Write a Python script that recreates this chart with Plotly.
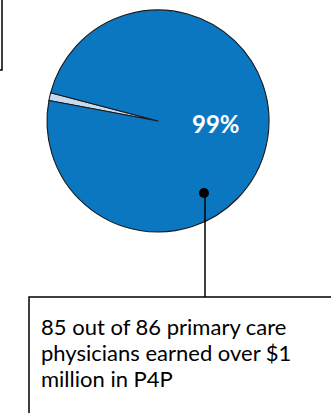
import plotly.graph_objects as go

# Physicians earning over $1 million in P4P
groups = ["Did not exceed $1 million", "Earned over $1 million"]
counts = [1, 85]
total = sum(counts)

callout_lines = [
    f"{counts[1]} out of {total} primary care",
    "physicians earned over $1",
    "million in P4P",
]

W, H = 331, 413


def px(x):
    return x / W


def py(y):
    return 1 - y / H


fig = go.Figure()

# pie: centre (158,121), radius 111 px
cx, cy, r = 158, 121, 111
fig.add_trace(go.Pie(
    labels=groups,
    values=counts,
    sort=False,
    direction="clockwise",
    rotation=280.6,
    marker=dict(colors=["#c8daf0", "#0c77c1"], line=dict(color="#1a1a1a", width=1.1)),
    textinfo="none",
    hoverinfo="label+value+percent",
    showlegend=False,
    domain=dict(x=[px(cx - r), px(cx + r)], y=[py(cy + r), py(cy - r)]),
))

share = round(100 * counts[1] / total)
fig.add_annotation(
    x=px(216), y=py(123), xref="paper", yref="paper",
    text=f"<b>{share}%</b>", showarrow=False,
    font=dict(family="Lato, Open Sans, sans-serif", size=24, color="white"),
    xanchor="center", yanchor="middle",
)

# callout marker and leader line
fig.add_shape(type="line", xref="paper", yref="paper",
              x0=px(205), x1=px(205), y0=py(193), y1=py(297),
              line=dict(color="black", width=1.5))
fig.add_shape(type="circle", xref="paper", yref="paper",
              x0=px(199), x1=px(209), y0=py(198), y1=py(188),
              fillcolor="black", line=dict(color="black", width=0))

# callout box (runs past the lower and right edges)
fig.add_shape(type="rect", xref="paper", yref="paper",
              x0=px(29), x1=px(336), y0=py(425), y1=py(297),
              line=dict(color="black", width=1.5), fillcolor="rgba(0,0,0,0)")

for i, line in enumerate(callout_lines):
    fig.add_annotation(
        x=px(39), y=py(326 + 26 * i), xref="paper", yref="paper",
        text=line, showarrow=False, xanchor="left", yanchor="middle",
        font=dict(family="Lato, Open Sans, sans-serif", size=22, color="black"),
    )

# corner of neighbouring frame at top left
fig.add_shape(type="rect", xref="paper", yref="paper",
              x0=px(-10), x1=px(2), y0=py(70), y1=py(-10),
              line=dict(color="black", width=1.5))

fig.update_layout(
    width=W, height=H,
    margin=dict(l=0, r=0, t=0, b=0),
    paper_bgcolor="white", plot_bgcolor="white",
)

fig.write_html("out.html")
